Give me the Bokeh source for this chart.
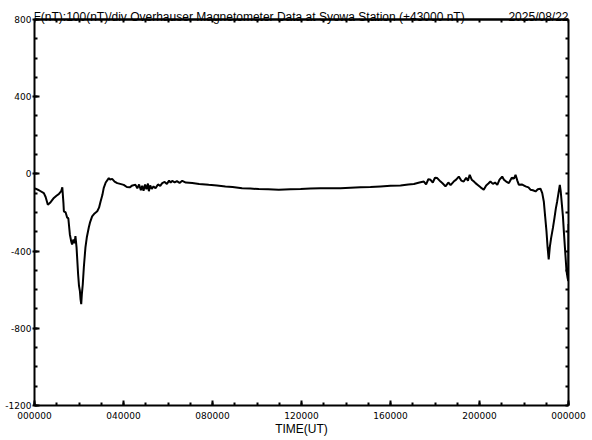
from bokeh.plotting import figure
from bokeh.models import LinearAxis, FixedTicker, Label, Range1d, Span
from bokeh.embed import file_html
from bokeh.resources import INLINE

# ---- data (hours UT, F - 43000 nT) ----
hours = [0.00, 0.05, 0.20, 0.42, 0.50, 0.60, 0.70, 0.87, 1.00, 1.09, 1.20, 1.25, 1.30, 1.32,
         1.40, 1.47, 1.52, 1.59, 1.65, 1.69, 1.75, 1.80, 1.84, 1.89, 1.96, 2.00, 2.04, 2.07,
         2.10, 2.13, 2.17, 2.22, 2.29, 2.35, 2.44, 2.50, 2.59, 2.70, 2.82, 2.90, 2.97, 3.05,
         3.11, 3.20, 3.34, 3.40, 3.49, 3.60, 3.72, 3.85, 4.01, 4.15, 4.28, 4.40, 4.54, 4.62,
         4.70, 4.78, 4.84, 4.90, 4.97, 5.03, 5.10, 5.14, 5.20, 5.27, 5.35, 5.44, 5.55, 5.65,
         5.74, 5.85, 5.95, 6.05, 6.12, 6.19, 6.30, 6.40, 6.52, 6.64, 6.80, 7.09, 7.40, 7.83,
         8.20, 8.58, 8.90, 9.33, 9.70, 10.08, 10.50, 10.98, 11.50, 11.96, 12.40, 12.85, 13.30,
         13.75, 14.20, 14.65, 15.10, 15.55, 16.00, 16.45, 16.80, 17.05, 17.30, 17.50, 17.60,
         17.70, 17.80, 17.90, 18.00, 18.10, 18.25, 18.35, 18.47, 18.60, 18.70, 18.84, 18.95,
         19.07, 19.18, 19.29, 19.40, 19.48, 19.56, 19.65, 19.75, 19.82, 19.95, 20.05, 20.19,
         20.30, 20.40, 20.49, 20.60, 20.70, 20.80, 20.90, 21.02, 21.10, 21.20, 21.32, 21.45,
         21.55, 21.62, 21.70, 21.77, 21.90, 22.07, 22.20, 22.29, 22.40, 22.52, 22.62, 22.74,
         22.82, 22.89, 22.95, 23.01, 23.06, 23.11, 23.16, 23.22, 23.30, 23.37, 23.43, 23.49,
         23.55, 23.61, 23.65, 23.69, 23.75, 23.79, 23.85, 23.91, 23.96, 23.99, 24.00]
field = [-75, -77, -85, -100, -120, -160, -150, -125, -112, -105, -90, -70, -150, -194,
         -200, -227, -230, -314, -350, -366, -340, -360, -323, -381, -520, -580, -607, -650,
         -675, -620, -572, -480, -381, -330, -278, -250, -220, -205, -194, -175, -143, -110,
         -74, -45, -22, -30, -26, -40, -48, -52, -57, -68, -70, -60, -57, -75,
         -55, -85, -62, -88, -55, -80, -50, -90, -60, -78, -65, -74, -55, -62,
         -48, -42, -52, -35, -45, -36, -44, -38, -47, -36, -45, -48, -52, -57,
         -60, -65, -68, -74, -76, -79, -80, -82, -80, -79, -76, -74, -75,
         -74, -72, -70, -68, -65, -62, -60, -55, -53, -45, -40, -55,
         -28, -31, -45, -20, -22, -40, -50, -65, -45, -58, -40, -30,
         -14, -35, -40, -20, -35, -5, -30, -40, -48, -60, -70, -82,
         -60, -50, -40, -52, -45, -57, -30, -14, -30, -40, -48, -20,
         -25, -5, -35, -57, -55, -65, -70, -82, -85, -91, -80, -77,
         -100, -143, -220, -297, -380, -443, -380, -332, -280, -228, -180, -143,
         -100, -57, -90, -143, -220, -297, -400, -503, -540, -555, -260]

x_ticks = [0, 4, 8, 12, 16, 20, 24]
x_tick_labels = ["000000", "040000", "080000", "120000", "160000", "200000", "000000"]
x_minor = list(range(0, 25))
y_ticks = [-1200, -800, -400, 0, 400, 800]
y_tick_labels = ["-1200", "-800", "-400", "0", "400", "800"]
y_minor = list(range(-1200, 801, 100))

title_text = "F(nT):100(nT)/div  Overhauser Magnetometer Data at Syowa Station (+43000 nT)"
date_text = "2025/08/22"
xlabel_text = "TIME(UT)"

W, H = 590, 438
Y0, Y1 = -1200, 800
AX_TOP, AX_BOTTOM = 19, 407          # pixel rows of the 800 and -1200 lines
FRAME_TOP = 2
ppu = (AX_BOTTOM - AX_TOP) / (Y1 - Y0)   # pixels per nT
Y_TOP = Y1 + (AX_TOP - FRAME_TOP) / ppu   # frame extends above the box for the title row

p = figure(width=W, height=H, output_backend="svg", toolbar_location=None,
           x_range=Range1d(0, 24), y_range=Range1d(Y0, Y_TOP),
           x_axis_location=None, y_axis_location=None,
           min_border_left=34, min_border_right=W - 568,
           min_border_top=FRAME_TOP, min_border_bottom=H - AX_BOTTOM)
p.xgrid.visible = False
p.ygrid.visible = False
p.outline_line_color = None
p.background_fill_color = "white"
p.border_fill_color = "white"

TICK_FONT = "DejaVu Sans"
TEXT_FONT = "Liberation Sans"

def style_axis(ax):
    ax.axis_line_width = 2
    ax.axis_line_color = "black"
    ax.major_tick_line_width = 2
    ax.minor_tick_line_width = 2
    ax.major_tick_line_color = "black"
    ax.minor_tick_line_color = "black"
    ax.major_tick_out = 0
    ax.minor_tick_out = 0
    ax.major_tick_in = 5
    ax.minor_tick_in = 3
    ax.major_label_text_color = "black"
    ax.major_label_text_font = TICK_FONT
    ax.major_label_text_font_size = "9px"

left = LinearAxis(ticker=FixedTicker(ticks=y_ticks, minor_ticks=y_minor), bounds=(Y0, Y1))
style_axis(left)
left.major_tick_out = 2
left.major_label_standoff = 1
left.major_label_overrides = {t: s for t, s in zip(y_ticks, y_tick_labels)}
p.add_layout(left, "left")

right = LinearAxis(ticker=FixedTicker(ticks=[], minor_ticks=y_minor), bounds=(Y0, Y1))
style_axis(right)
right.major_label_standoff = 0
p.add_layout(right, "right")

bottom = LinearAxis(ticker=FixedTicker(ticks=x_ticks, minor_ticks=x_minor))
style_axis(bottom)
bottom.major_label_standoff = 6
bottom.major_label_overrides = {t: s for t, s in zip(x_ticks, x_tick_labels)}
bottom.axis_label = xlabel_text
bottom.axis_label_text_font = TEXT_FONT
bottom.axis_label_text_font_size = "12px"
bottom.axis_label_text_font_style = "normal"
bottom.axis_label_text_color = "black"
bottom.axis_label_standoff = 0
p.add_layout(bottom, "below")

# top edge of the box, drawn at y = 800 inside the (taller) frame
top = LinearAxis(ticker=FixedTicker(ticks=[], minor_ticks=x_minor), fixed_location=Y1)
style_axis(top)
top.major_label_standoff = 0
p.add_layout(top, "above")
p.add_layout(Span(location=Y1, dimension="width", line_color="black", line_width=2))

p.line(hours, field, line_width=2, line_color="black")

p.add_layout(Label(x=0, y=Y1 + 2 / ppu, x_offset=-1, text=title_text,
                   text_font=TEXT_FONT, text_font_size="12px",
                   text_color="black", text_baseline="alphabetic", text_align="left"))
p.add_layout(Label(x=24, y=Y1 + 2 / ppu, text=date_text,
                   text_font=TEXT_FONT, text_font_size="12px",
                   text_color="black", text_baseline="alphabetic", text_align="right"))

open("out.html", "w").write(file_html(p, INLINE))
